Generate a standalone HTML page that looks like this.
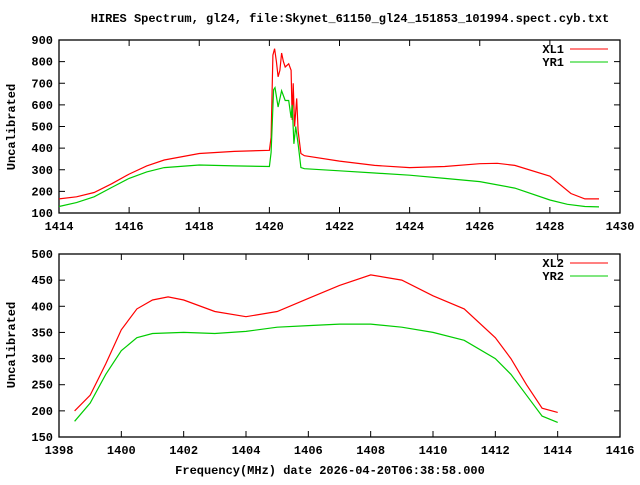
<!DOCTYPE html><html><head><style>body{margin:0;background:#fff}svg text{font-family:"Liberation Mono",monospace;font-weight:bold;font-size:12px}</style></head><body>
<svg id="s" width="640" height="480" xmlns="http://www.w3.org/2000/svg">
<rect width="640" height="480" fill="#fff"/>
<text x="350" y="22" text-anchor="middle">HIRES Spectrum, gl24, file:Skynet_61150_gl24_151853_101994.spect.cyb.txt</text>
<g id="g"></g>
<text x="330" y="474" text-anchor="middle">Frequency(MHz) date 2026-04-20T06:38:58.000</text>
<text transform="translate(15,127) rotate(-90)" text-anchor="middle">Uncalibrated</text>
<text transform="translate(15,345) rotate(-90)" text-anchor="middle">Uncalibrated</text>
</svg>
<script>
var g=document.getElementById('g'),h='';
function plot(L,R,T,B,x0,x1,y0,y1,xs,ys,series,labs){
 var X=f=>L+(f-x0)/(x1-x0)*(R-L),Y=v=>B-(v-y0)/(y1-y0)*(B-T);
 h+=`<rect x="${L}" y="${T}" width="${R-L}" height="${B-T}" fill="none" stroke="#000" stroke-width="1.3"/>`;
 for(var f=x0;f<=x1+1e-6;f+=xs){var x=X(f);h+=`<line x1="${x}" y1="${B}" x2="${x}" y2="${B-6}" stroke="#000"/><line x1="${x}" y1="${T}" x2="${x}" y2="${T+6}" stroke="#000"/><text x="${x}" y="${B+17}" text-anchor="middle">${f}</text>`;}
 for(var v=y0;v<=y1+1e-6;v+=ys){var y=Y(v);h+=`<line x1="${L}" y1="${y}" x2="${L+6}" y2="${y}" stroke="#000"/><line x1="${R}" y1="${y}" x2="${R-6}" y2="${y}" stroke="#000"/><text x="${L-6}" y="${y+4}" text-anchor="end">${v}</text>`;}
 series.forEach((s,i)=>{var p=[];for(var k=0;k<s.d.length;k+=2)p.push(X(s.d[k]).toFixed(1)+','+Y(s.d[k+1]).toFixed(1));
  h+=`<polyline points="${p.join(' ')}" fill="none" stroke="${s.c}" stroke-width="1.2"/>`;
  var ly=T+13+i*13;h+=`<text x="${R-56}" y="${ly}" text-anchor="end">${labs[i]}</text><line x1="${R-50}" y1="${ly-4}" x2="${R-12}" y2="${ly-4}" stroke="${s.c}"/>`;});
}
plot(59,620,40,213,1414,1430,100,900,2,100,[
{c:'#f00',d:[1414,165,1414.5,175,1415,195,1415.5,235,1416,280,1416.5,318,1417,345,1418,375,1419,385,1420,390,1420.05,450,1420.1,830,1420.15,860,1420.2,800,1420.25,730,1420.3,760,1420.35,840,1420.4,800,1420.45,775,1420.55,790,1420.62,760,1420.65,530,1420.68,700,1420.72,500,1420.78,630,1420.82,480,1420.9,375,1421,365,1422,340,1423,320,1424,310,1425,315,1426,328,1426.5,330,1427,320,1428,270,1428.6,190,1429,165,1429.4,165]},
{c:'#0c0',d:[1414,130,1414.5,148,1415,175,1415.5,218,1416,260,1416.5,290,1417,310,1418,322,1419,318,1420,315,1420.05,380,1420.12,670,1420.16,680,1420.25,590,1420.35,665,1420.45,620,1420.55,620,1420.62,540,1420.65,600,1420.7,420,1420.75,500,1420.82,420,1420.9,310,1421,305,1422,295,1423,285,1424,275,1425,260,1426,245,1427,215,1428,160,1428.5,140,1429,130,1429.4,128]}],['XL1','YR1']);
plot(59,620,254,437,1398,1416,150,500,2,50,[
{c:'#f00',d:[1398.5,200,1399,230,1399.5,290,1400,355,1400.5,395,1401,412,1401.5,418,1402,412,1403,390,1404,380,1405,390,1406,415,1407,440,1408,460,1409,450,1410,420,1411,395,1412,340,1412.5,300,1413,250,1413.5,205,1414,197]},
{c:'#0c0',d:[1398.5,180,1399,215,1399.5,270,1400,315,1400.5,340,1401,348,1402,350,1403,348,1404,352,1405,360,1406,363,1407,366,1408,366,1409,360,1410,350,1411,335,1412,300,1412.5,270,1413,230,1413.5,190,1414,178]}],['XL2','YR2']);
g.innerHTML=h;
</script></body></html>
